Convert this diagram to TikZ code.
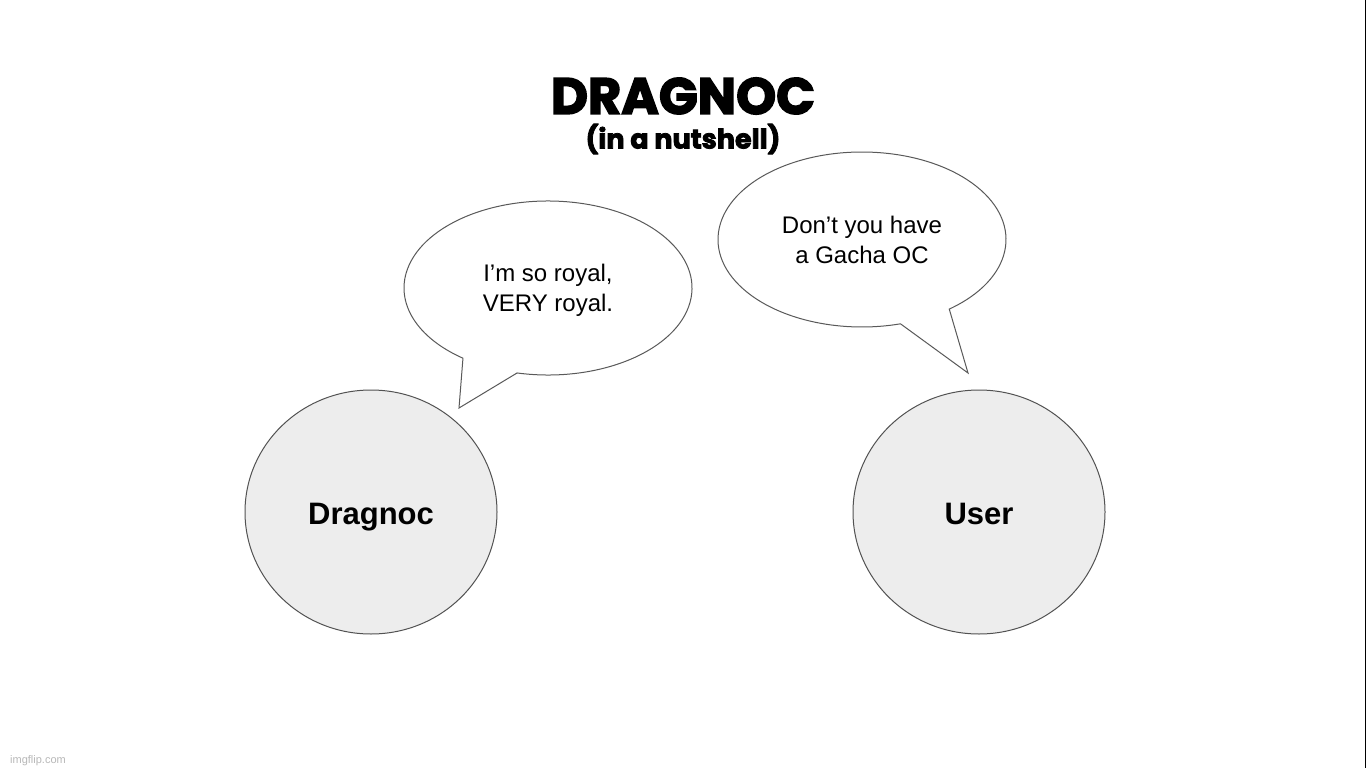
\documentclass[tikz,border=0pt]{standalone}
\usepackage{fontspec}
\usetikzlibrary{calc}
\setmainfont{Liberation Sans}
\newfontfamily\titlefont{Poppins}[BoldFeatures={FakeBold=3}]
\begin{document}
\begin{tikzpicture}[x=1pt,y=1pt,
  person/.style={draw=black!68,line width=1pt,fill=black!7},
  bubble/.style={draw=black!65,line width=1pt,fill=white,line join=miter},
  saytext/.style={align=center,font=\fontsize{24}{30}\selectfont,inner sep=0pt},
  nametext/.style={anchor=base,font=\fontsize{31}{36}\selectfont\bfseries,inner sep=0pt}]
\useasboundingbox (0,0) rectangle (1366,-768);
\fill[white] (0,0) rectangle (1366,-768);
\fill[black] (1365,0) rectangle (1366,-768);
% title
\node[font=\titlefont\bfseries\fontsize{51}{56}\selectfont,inner sep=0pt] (title) at (683,-96) {DRAGNOC};
\node[font=\titlefont\bfseries\fontsize{27}{32}\selectfont,inner sep=0pt] (subtitle) at (683,-139) {(in a nutshell)};
% persons
\draw[person] (371,-512) ellipse[x radius=126pt,y radius=122pt];
\draw[person] (979,-512) ellipse[x radius=126pt,y radius=122pt];
\node[nametext] (dragnoc) at (371,-524) {Dragnoc};
\node[nametext] (user) at (979,-524) {User};
% left bubble
\coordinate (lc) at (548,-288);
\coordinate (ltip) at (459,-408);
\draw[bubble] (ltip) -- ($(lc)+(257.6:144pt and 87pt)$) arc[start angle=257.6,end angle=593.8,x radius=144pt,y radius=87pt] -- cycle;
\node[saytext] (lsay) at (548,-290) {I’m so royal,\\VERY royal.};
% right bubble
\coordinate (rc) at (862,-239.5);
\coordinate (rtip) at (968,-373);
\draw[bubble] (rtip) -- ($(rc)+(307.3:144pt and 87.5pt)$) arc[start angle=307.3,end angle=645.5,x radius=144pt,y radius=87.5pt] -- cycle;
\node[saytext] (rsay) at (862,-240) {Don’t you have\\a Gacha OC};
% watermark
\node[anchor=base west,inner sep=0pt,text=black!28,font=\fontsize{11}{13}\selectfont] (wm) at (10,-763) {imgflip.com};
\end{tikzpicture}
\end{document}
